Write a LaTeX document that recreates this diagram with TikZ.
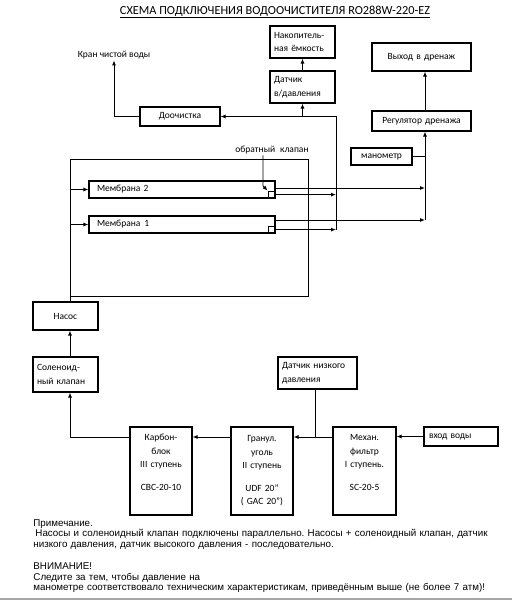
\documentclass[tikz,border=0pt]{standalone}
\usepackage{fontspec}
\setmainfont{Carlito}
\newfontfamily\notefont{Liberation Sans}
\usetikzlibrary{arrows.meta}
\frenchspacing
\begin{document}
\begin{tikzpicture}[x=1pt,y=-1pt,
  line width=0.9pt,
  lbl/.style={font=\fontsize{9.5}{13}\selectfont, inner sep=1pt},
  box/.style={draw, line width=1.1pt, inner xsep=4pt, inner ysep=3pt,
    font=\fontsize{9.5}{13.5}\selectfont},
  lbox/.style={box, align=left},
  cbox/.style={box, align=center},
  arr/.style={-{Latex[length=5pt,width=4pt]}}]
\useasboundingbox (0,0) rectangle (512,600);
\fill[white] (0,0) rectangle (512,600);

% title
\node[font=\fontsize{12.3}{14}\selectfont] (title) at (275,12)
  {\underline{СХЕМА ПОДКЛЮЧЕНИЯ ВОДООЧИСТИТЕЛЯ RO288W-220-EZ}};

% top boxes
\node[lbox, minimum width=65pt, minimum height=32pt, text width=57pt] (nak) at (302.5,42) {Накопитель-\\ная ёмкость};
\node[lbox, minimum width=65pt, minimum height=32pt, text width=57pt] (dat) at (302.5,87) {Датчик\\в/давления};
\node[cbox, minimum width=99pt, minimum height=28pt, text width=91pt] (vyh) at (421.5,57) {Выход в дренаж};
\node[cbox, minimum width=80pt, minimum height=19pt, text width=72pt] (doo) at (180,116.5) {Доочистка};
\node[cbox, minimum width=99pt, minimum height=20pt, text width=91pt] (reg) at (421.5,121) {Регулятор дренажа};
\node[cbox, minimum width=61pt, minimum height=17pt, text width=53pt] (man) at (381.5,156.5) {манометр};
\node[lbl] (kran) at (114,55) {Кран чистой воды};
\node[lbl] (ov) at (272,150) {обратный\hspace{5pt}клапан};

% membranes
\node[lbox, minimum width=186pt, minimum height=17pt, text width=170pt, inner xsep=8pt] (m2) at (182,189.5) {Мембрана 2};
\node[lbox, minimum width=186pt, minimum height=17pt, text width=170pt, inner xsep=8pt] (m1) at (182,224.5) {Мембрана\hspace{4pt}1};
\node[draw, line width=0.9pt, minimum size=7pt, inner sep=0pt, anchor=south east] (sq2) at (m2.south east) {};
\node[draw, line width=0.9pt, minimum size=7pt, inner sep=0pt, anchor=south east] (sq1) at (m1.south east) {};

% lower boxes
\node[cbox, minimum width=65pt, minimum height=28pt, text width=57pt] (nas) at (65.5,316) {Насос};
\node[lbox, minimum width=65pt, minimum height=35pt, text width=57pt] (sol) at (65.5,374.5) {Соленоид-\\ный клапан};
\node[lbox, minimum width=79pt, minimum height=32pt, text width=71pt] (dnd) at (317.5,373) {Датчик низкого\\давления};
\node[cbox, minimum width=62pt, minimum height=88pt, text width=54pt] (carb) at (161,471)
  {Карбон-\\блок\\III ступень\\[9pt]CBC-20-10\\\strut};
\node[cbox, minimum width=62pt, minimum height=88pt, text width=54pt] (gran) at (262,471)
  {Гранул.\\уголь\\II ступень\\[9pt]UDF 20”\\( GAC 20”)};
\node[cbox, minimum width=63pt, minimum height=88pt, text width=55pt] (mech) at (364.5,471)
  {Механ.\\фильтр\\I ступень.\\[9pt]SC-20-5\\\strut};
\node[lbox, minimum width=74pt, minimum height=19pt, text width=64pt, inner xsep=5pt] (vhod) at (461,436.5) {вход\hspace{3pt}воды};

% coordinates
\coordinate (TL) at (70,159);
\coordinate (TR) at (308,159);
\coordinate (BR) at (308,296);
\coordinate (BL) at (70,296);
\coordinate (J1) at (336,116.5);
\coordinate (R) at (425,220);
\coordinate (o2) at (275,188);
\coordinate (o1) at (275,220);
\coordinate (cv) at (263,186);
\coordinate (Y) at (315,437);

% big loop
\draw (nas.north -| TL) -- (TL) -- (TR) -- (BR) -- (BL);
\draw[arr] (TL |- m2.west) -- (m2.west);
\draw[arr] (TL |- m1.west) -- (m1.west);

% check valve
\draw[arr] (ov.south -| cv) -- (cv) -- (sq2.north west);

% permeate
\draw[arr] (sq2.east) -- (sq2.east -| J1);
\draw[arr] (sq1.east) -- (sq1.east -| J1);
\draw[arr] (sq1.east -| J1) -- (J1) -- (doo.east);
\draw[arr] (dat.south |- doo.east) -- (dat.south);
\draw[arr] (dat.north) -- (nak.south);
\draw[arr] (doo.west) -| (kran.south);

% concentrate
\draw[arr] (o2) -- (o2 -| R);
\draw[arr] (o1) -- (R);
\draw[arr] (R) -- (R |- reg.south);
\draw (man.east) -- (man.east -| R);
\draw[arr] (R |- reg.north) -- (R |- vyh.south);

% bottom chain
\draw[arr] (vhod.west) -- (vhod.west -| mech.east);
\draw[arr] (mech.west |- Y) -- (gran.east |- Y);
\draw (Y) -- (Y |- dnd.south);
\draw[arr] (gran.west |- Y) -- (carb.east |- Y);
\draw[arr] (carb.west |- Y) -- (TL |- Y) -- (TL |- sol.south);
\draw[arr] (TL |- sol.north) -- (TL |- nas.south);

% notes
\node[anchor=north west, inner sep=0pt, text width=478pt, align=left,
  font=\notefont\fontsize{9.8}{10.8}\selectfont] (notes) at (33,519)
  {Примечание.\\
  \hspace{2pt}Насосы и соленоидный клапан подключены параллельно. Насосы + соленоидный клапан, датчик\\
  низкого давления, датчик высокого давления - последовательно.\\[10.8pt]
  ВНИМАНИЕ!\\
  Следите за тем, чтобы давление на\\
  манометре соответствовало техническим характеристикам, приведённым выше (не более 7 атм)!};

\draw[gray!70, line width=2pt] (0,599) -- (512,599);
\end{tikzpicture}
\end{document}
